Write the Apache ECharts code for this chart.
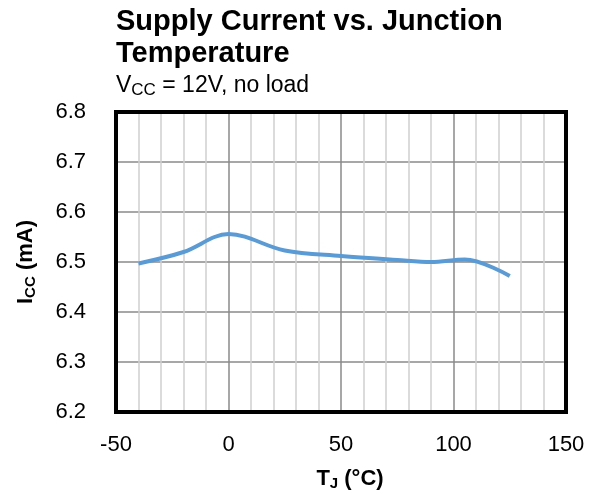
<!DOCTYPE html>
<html>
<head>
<meta charset="utf-8">
<script src="https://cdn.jsdelivr.net/npm/echarts@6/dist/echarts.min.js"></script>
<style>html,body{margin:0;padding:0;background:#fff}#c{width:595px;height:496px}</style>
</head>
<body>
<div id="c"></div>
<script>
const temperature = [-40, -20, 0, 25, 50, 75, 90, 105, 125];
const supplyCurrent = [6.497, 6.52, 6.556, 6.523, 6.512, 6.504, 6.500, 6.505, 6.472];
const xTicks = [-50, 0, 50, 100, 150];
const yTicks = [6.2, 6.3, 6.4, 6.5, 6.6, 6.7, 6.8];

const FONT = 'Liberation Sans, Arial, sans-serif';
const chart = echarts.init(document.getElementById('c'), null, {renderer: 'canvas'});
chart.setOption({
  backgroundColor: '#fff',
  animation: false,
  title: {
    left: 111, top: 1,
    text: 'Supply Current vs. Junction\nTemperature',
    textStyle: {fontFamily: FONT, fontSize: 29, fontWeight: 'bold', color: '#000', lineHeight: 32},
    subtext: 'V{s|CC} = 12V, no load',
    subtextStyle: {fontFamily: FONT, fontSize: 23, color: '#000', lineHeight: 26,
      rich: {s: {fontFamily: FONT, fontSize: 17, color: '#000', verticalAlign: 'bottom', padding: [7, 0, 0, 0]}}},
    itemGap: 3
  },
  grid: {left: 116, right: 29, top: 112, bottom: 79, show: true, borderColor: '#000', borderWidth: 4, backgroundColor: 'transparent', z: 5},
  xAxis: {
    type: 'value', min: xTicks[0], max: xTicks[xTicks.length - 1], interval: 50,
    name: 'T{s|J} (°C)', nameLocation: 'middle', nameGap: 55,
    nameTextStyle: {fontFamily: FONT, fontSize: 22, fontWeight: 'bold', color: '#000', padding: [0, 0, 0, 18],
      rich: {s: {fontFamily: FONT, fontSize: 15, fontWeight: 'bold', color: '#000', verticalAlign: 'bottom', padding: [9, 0, 0, 0]}}},
    axisLine: {show: false}, axisTick: {show: false},
    axisLabel: {fontFamily: FONT, fontSize: 22, color: '#000', margin: 22},
    splitLine: {show: true, lineStyle: {color: '#8a8a8a', width: 1.5}},
    minorTick: {show: false, splitNumber: 5},
    minorSplitLine: {show: true, lineStyle: {color: '#cfcfcf', width: 1.5}}
  },
  yAxis: {
    type: 'value', min: yTicks[0], max: yTicks[yTicks.length - 1], interval: 0.1,
    name: 'I{s|CC} (mA)', nameLocation: 'middle', nameGap: 78, nameRotate: 90,
    nameTextStyle: {fontFamily: FONT, fontSize: 22, fontWeight: 'bold', color: '#000',
      rich: {s: {fontFamily: FONT, fontSize: 15, fontWeight: 'bold', color: '#000', verticalAlign: 'bottom', padding: [9, 0, 0, 0]}}},
    axisLine: {show: false}, axisTick: {show: false},
    axisLabel: {fontFamily: FONT, fontSize: 22, color: '#000', margin: 30, formatter: v => v.toFixed(1)},
    splitLine: {show: true, lineStyle: {color: '#8a8a8a', width: 1.5}}
  },
  series: [{
    type: 'line', data: temperature.map((t, i) => [t, supplyCurrent[i]]),
    smooth: 0.35, showSymbol: false, symbol: 'none',
    lineStyle: {color: '#5b9bd5', width: 4}, z: 3
  }]
});
</script>
</body>
</html>
